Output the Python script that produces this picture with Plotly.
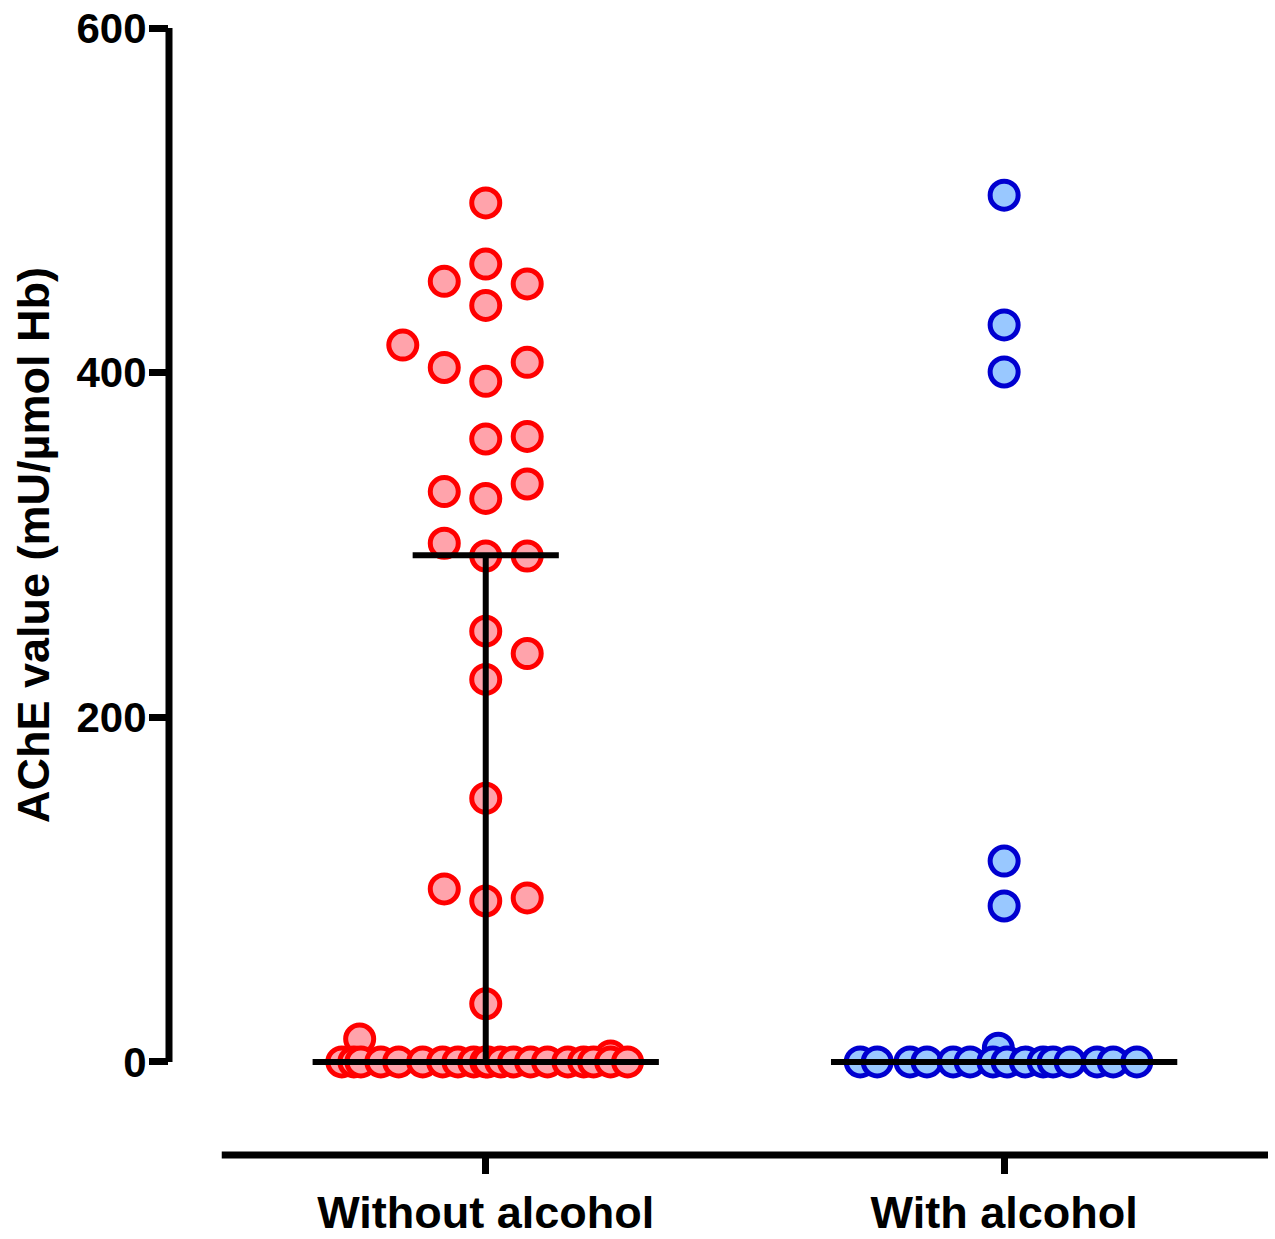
import plotly.graph_objects as go

# ---------------- data ----------------
categories = ["Without alcohol", "With alcohol"]

# Without alcohol: values (mU/µmol Hb) and horizontal scatter slot offsets
without_values = [498.5, 463, 453, 451.5, 439, 416, 403, 406, 395, 361.5, 363,
                  335.4, 331, 327, 301, 293.6, 293.6, 250, 237, 222, 153,
                  100.4, 93.4, 95.2, 33.7, 13.3, 3.5,
                  0, 0, 0, 0, 0, 0, 0, 0, 0, 0, 0, 0, 0, 0, 0, 0, 0, 0, 0, 0]
without_slots = [0, 0, -1, 1, 0, -2, -1, 1, 0, 0, 1,
                 1, -1, 0, -1, 0, 1, 0, 1, 0, 0,
                 -1, 0, 1, 0, -3.04, 3.01,
                 -3.47, -3.18, -3.01, -2.53, -2.10, -1.52, -1.04, -0.67, -0.29,
                 0, 0.05, 0.36, 0.67, 1.08, 1.49, 1.98, 2.36, 2.60, 3.01, 3.42]

# With alcohol
with_values = [503, 427.7, 400.4, 116.6, 90.5, 8,
               0, 0, 0, 0, 0, 0, 0, 0, 0, 0, 0, 0, 0, 0, 0]
with_slots = [0, 0, 0, 0, 0, -0.14,
              -3.47, -3.06, -2.27, -1.86, -1.23, -0.82, -0.27, 0.07, 0.51,
              0.94, 1.18, 1.59, 2.24, 2.63, 3.20]

# summary lines (median with interquartile range)
medians = [0, 0]
q1 = [0, 0]
q3 = [294, 0]

y_ticks = [0, 200, 400, 600]

# ---------------- styling ----------------
SLOT = 0.08          # horizontal spacing of one scatter column (x units)
MED_HALF = 0.334     # half width of median bar
IQR_HALF = 0.141     # half width of quartile bar
FONT = "Liberation Sans, Arial, sans-serif"

groups = [
    dict(vals=without_values, slots=without_slots, fill="#FFA3AB", edge="#FF0000"),
    dict(vals=with_values, slots=with_slots, fill="#99C8FF", edge="#0000D0"),
]

fig = go.Figure()

for gi, g in enumerate(groups):
    xc = gi + 1
    fig.add_trace(go.Scatter(
        x=[xc + s * SLOT for s in g["slots"]],
        y=g["vals"],
        mode="markers",
        marker=dict(size=28, color=g["fill"], line=dict(color=g["edge"], width=5)),
        cliponaxis=False,
        showlegend=False,
        hoverinfo="y",
    ))

# median / IQR lines on top
for gi in range(len(categories)):
    xc = gi + 1
    line = dict(color="black", width=6)
    fig.add_trace(go.Scatter(x=[xc - MED_HALF, xc + MED_HALF], y=[medians[gi], medians[gi]],
                             mode="lines", line=line, showlegend=False, hoverinfo="skip"))
    if q3[gi] > q1[gi]:
        fig.add_trace(go.Scatter(x=[xc - IQR_HALF, xc + IQR_HALF], y=[q3[gi], q3[gi]],
                                 mode="lines", line=line, showlegend=False, hoverinfo="skip"))
        fig.add_trace(go.Scatter(x=[xc - IQR_HALF, xc + IQR_HALF], y=[q1[gi], q1[gi]],
                                 mode="lines", line=line, showlegend=False, hoverinfo="skip"))
        fig.add_trace(go.Scatter(x=[xc, xc], y=[q1[gi], q3[gi]],
                                 mode="lines", line=line, showlegend=False, hoverinfo="skip"))

# axis lines (offset style)
fig.add_shape(type="line", xref="paper", yref="y", x0=0, x1=0, y0=0, y1=600,
              line=dict(color="black", width=7))
fig.add_shape(type="line", xref="paper", yref="paper", x0=0.048, x1=1, y0=0, y1=0,
              line=dict(color="black", width=7))

fig.add_annotation(text="AChE value (mU/µmol Hb)", textangle=-90,
                   xref="paper", x=0, xshift=-135, yref="y", y=300,
                   xanchor="center", yanchor="middle", showarrow=False,
                   font=dict(family=FONT, size=45, color="black", weight="bold"))

fig.update_layout(
    width=1275, height=1239,
    margin=dict(l=169, r=7, t=28, b=84, autoexpand=False),
    paper_bgcolor="white", plot_bgcolor="white",
    xaxis=dict(range=[0.389, 2.509], tickvals=[1, 2], ticktext=categories,
               showgrid=False, zeroline=False, showline=False, automargin=False,
               ticks="outside", ticklen=18, tickwidth=7, tickcolor="black",
               ticklabelstandoff=0,
               tickfont=dict(family=FONT, size=45, color="black", weight="bold")),
    yaxis=dict(range=[-54, 600], tickvals=y_ticks, ticktext=[str(v) for v in y_ticks],
               showgrid=False, zeroline=False, showline=False, automargin=False,
               ticks="outside", ticklen=19, tickwidth=7, tickcolor="black",
               ticklabelstandoff=-6, ticklabeloverflow="allow",
               tickfont=dict(family=FONT, size=42, color="black", weight="bold")),
)

# remove the default page margin so the 1275x1239 figure fills the window exactly
fig.write_html("out.html",
               config={"displayModeBar": False},
               post_script="document.body.style.margin='0';document.body.style.overflow='hidden';")
